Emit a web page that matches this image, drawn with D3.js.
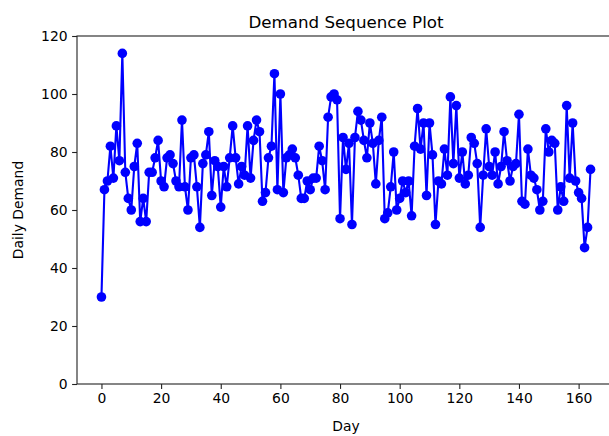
<!DOCTYPE html>
<html>
<head>
<meta charset="utf-8">
<script src="https://cdn.jsdelivr.net/npm/d3@7"></script>
<style>
  body { margin: 0; background: #fff; }
  text { font-family: "DejaVu Sans", sans-serif; fill: #000; }
</style>
</head>
<body>
<div class="vis-holder"></div>
<script>
// daily demand, one value per day starting at day 0
var demand = [
  30, 67, 70, 82, 71, 89, 77, 114, 73, 64,
  60, 75, 83, 56, 64, 56, 73, 73, 78, 84,
  70, 68, 78, 79, 76, 70, 68, 91, 68, 60,
  78, 79, 68, 54, 76, 79, 87, 65, 77, 75,
  61, 75, 68, 78, 89, 78, 69, 75, 72, 89,
  71, 84, 91, 87, 63, 66, 78, 82, 107, 67,
  100, 66, 78, 79, 81, 78, 72, 64, 64, 70,
  67, 71, 71, 82, 77, 67, 92, 99, 100, 98,
  57, 85, 74, 83, 55, 85, 94, 91, 84, 78,
  90, 83, 69, 84, 92, 57, 59, 68, 80, 60,
  64, 70, 66, 70, 58, 82, 95, 81, 90, 65,
  90, 79, 55, 70, 69, 81, 72, 99, 76, 96,
  71, 80, 69, 72, 85, 83, 76, 54, 72, 88,
  75, 72, 80, 69, 75, 87, 77, 70, 75, 76,
  93, 63, 62, 81, 72, 71, 67, 60, 63, 88,
  80, 84, 83, 60, 68, 63, 96, 71, 90, 70,
  66, 64, 47, 54, 74
];
var xTicks = [0, 20, 40, 60, 80, 100, 120, 140, 160];
var yTicks = [0, 20, 40, 60, 80, 100, 120];

var width = 609;
var height = 436;
// plot box (the right edge runs past the picture, like the reference)
var margin = { top: 36, bottom: 52, left: 77, right: -6 };

var svg = d3.select(".vis-holder")
  .append("svg")
  .attr("width", width)
  .attr("height", height);

var xScale = d3.scaleLinear()
  .domain([-8.2, 172.2])
  .range([margin.left, width - margin.right]);

var yScale = d3.scaleLinear()
  .domain([0, 120])
  .range([height - margin.bottom, margin.top]);

var line = d3.line()
  .x(function(d, i) { return xScale(i); })
  .y(function(d) { return yScale(d); });

svg.append("path")
  .attr("d", line(demand))
  .attr("fill", "none")
  .attr("stroke", "#0000ff")
  .attr("stroke-width", 2.1)
  .attr("stroke-linejoin", "round");

svg.append("g")
  .selectAll("circle")
  .data(demand)
  .enter()
  .append("circle")
  .attr("cx", function(d, i) { return xScale(i); })
  .attr("cy", function(d) { return yScale(d); })
  .attr("r", 4.8)
  .attr("fill", "#0000ff");

// frame
svg.append("rect")
  .attr("x", margin.left)
  .attr("y", margin.top)
  .attr("width", width - margin.right - margin.left)
  .attr("height", height - margin.bottom - margin.top)
  .attr("fill", "none")
  .attr("stroke", "#222")
  .attr("stroke-width", 1.1);

var xAxis = d3.axisBottom(xScale)
  .tickValues(xTicks)
  .tickSize(4.9)
  .tickSizeOuter(0)
  .tickPadding(4.5);
var gx = svg.append("g")
  .attr("transform", "translate(0," + (height - margin.bottom) + ")")
  .call(xAxis);

var yAxis = d3.axisLeft(yScale)
  .tickValues(yTicks)
  .tickSize(4.9)
  .tickSizeOuter(0)
  .tickPadding(4.5);
var gy = svg.append("g")
  .attr("transform", "translate(" + margin.left + ",0)")
  .call(yAxis);

svg.selectAll(".domain").remove();
svg.selectAll(".tick line").attr("stroke", "#222").attr("stroke-width", 1.1);
svg.selectAll(".tick text")
  .style("font-family", "DejaVu Sans")
  .style("font-size", "13.9px")
  .attr("fill", "#000");

var midX = (margin.left + width - margin.right) / 2;

svg.append("text")
  .attr("x", midX)
  .attr("y", 28)
  .style("text-anchor", "middle")
  .style("font-size", "16.7px")
  .text("Demand Sequence Plot");

svg.append("text")
  .attr("x", midX)
  .attr("y", 431)
  .style("text-anchor", "middle")
  .style("font-size", "13.9px")
  .text("Day");

svg.append("text")
  .attr("transform", "translate(23," + ((margin.top + height - margin.bottom) / 2) + ") rotate(-90)")
  .style("text-anchor", "middle")
  .style("font-size", "13.9px")
  .text("Daily Demand");
</script>
</body>
</html>
